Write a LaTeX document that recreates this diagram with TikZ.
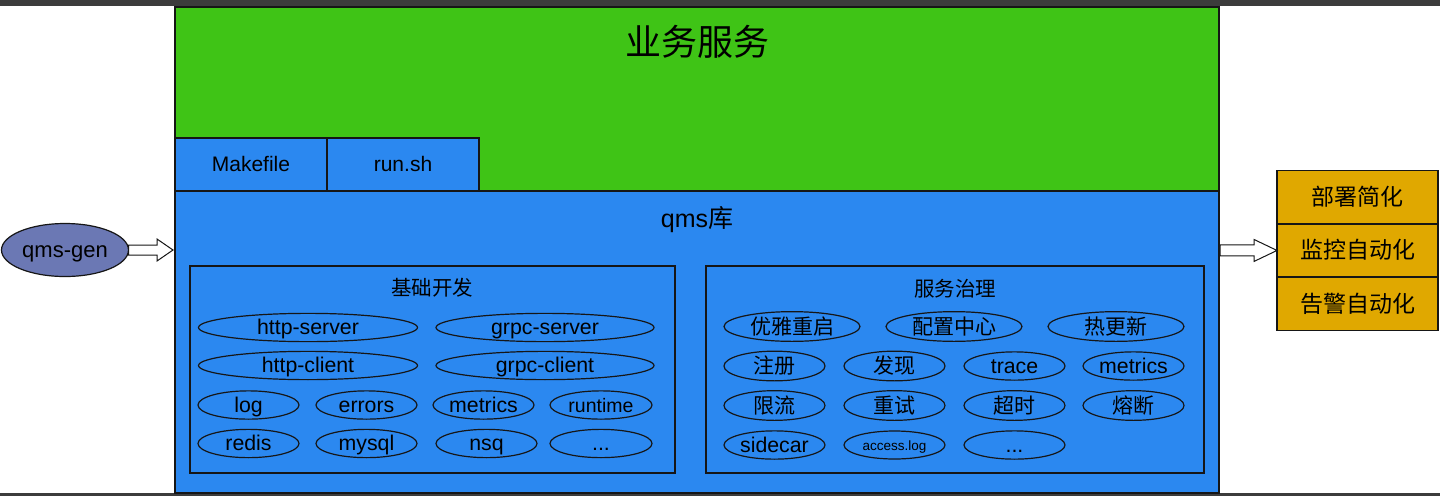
\documentclass[tikz,border=0pt]{standalone}
\usepackage{fontspec}
\setmainfont{Liberation Sans}
\newfontfamily\cjk{Noto Sans CJK SC}
\usetikzlibrary{shapes.geometric,calc}
\definecolor{bizgreen}{HTML}{3FC416}
\definecolor{libblue}{HTML}{2B88F0}
\definecolor{genslate}{HTML}{6B78B4}
\definecolor{gold}{HTML}{E0A800}
\definecolor{barGray}{HTML}{3C3C3C}
\definecolor{edge}{HTML}{161616}
\begin{document}
\begin{tikzpicture}[x=1pt,y=-1pt,
  every node/.style={inner sep=0pt, outer sep=0pt},
  mid/.style={text height=#1, text depth=3pt},
  mid/.default=17pt,
  box/.style={rectangle, draw=edge, line width=1.4pt, anchor=north west},
  pillA/.style={ellipse, draw=edge, line width=1.2pt, minimum width=#1, minimum height=26pt, mid, font=\fontsize{21.3}{25}\selectfont},
  pillB/.style={ellipse, draw=edge, line width=1.2pt, minimum width=#1, minimum height=28pt, mid, font=\fontsize{21.3}{25}\selectfont},
  cjkpill/.style={pillB=#1, mid=18pt, font=\cjk\fontsize{21}{25}\selectfont},
  sidebox/.style={box, fill=gold, minimum width=161pt, minimum height=53.3pt, mid=19.5pt, font=\cjk\fontsize{23}{27}\selectfont},
  hollow/.style={draw=edge, fill=white, line width=1pt, line join=miter}
]
\useasboundingbox (0,0) rectangle (1440,496);
\fill[white] (0,0) rectangle (1440,496);
\fill[barGray] (0,0) rectangle (1440,6);
\fill[barGray] (0,493) rectangle (1440,496);

% business service
\node[box, fill=bizgreen, minimum width=1044pt, minimum height=184pt] (biz) at (175,7) {};
\node[font=\cjk\fontsize{36}{40}\selectfont] (bizt) at (697,42) {业务服务};
\node[box, fill=libblue, minimum width=152pt, minimum height=53pt, mid, font=\fontsize{21}{25}\selectfont] (make) at (175,138) {Makefile};
\node[box, fill=libblue, minimum width=152pt, minimum height=53pt, mid, font=\fontsize{21}{25}\selectfont] (run) at (327,138) {run.sh};

% qms library
\node[box, fill=libblue, minimum width=1044pt, minimum height=302pt] (qms) at (175,191) {};
\node[mid=20pt, font=\fontsize{25}{29}\selectfont] (qmst) at (697,219) {qms{\cjk 库}};

\node[box, minimum width=485pt, minimum height=207pt] (base) at (190,266) {};
\node[font=\cjk\fontsize{20.5}{24}\selectfont] (baset) at (432,288) {基础开发};
\node[box, minimum width=498pt, minimum height=207pt] (gov) at (706,266) {};
\node[font=\cjk\fontsize{20.5}{24}\selectfont] (govt) at (955,289) {服务治理};

% base items
\node[pillA=219pt] (hs) at (308,327.5) {http-server};
\node[pillA=218pt] (gs) at (545,327.5) {grpc-server};
\node[pillA=219pt] (hc) at (308,365.5) {http-client};
\node[pillA=218pt] (gc) at (545,365.5) {grpc-client};
\node[pillA=101pt] (log) at (248.5,405) {log};
\node[pillA=101pt] (err) at (366.5,405) {errors};
\node[pillA=101pt] (met) at (483.5,405) {metrics};
\node[pillA=102pt, font=\fontsize{19.5}{23}\selectfont] (rt) at (601,405) {runtime};
\node[pillA=101pt] (redis) at (248.5,443.5) {redis};
\node[pillA=101pt] (mysql) at (366.5,443.5) {mysql};
\node[pillA=101pt] (nsq) at (486.5,443.5) {nsq};
\node[pillA=102pt] (bmore) at (601,443.5) {...};

% governance items
\node[cjkpill=136pt] (gr) at (792,326.5) {优雅重启};
\node[cjkpill=136pt] (cfg) at (954,326.5) {配置中心};
\node[cjkpill=136pt] (hot) at (1116,326.5) {热更新};
\node[cjkpill=101pt] (reg) at (774.5,366) {注册};
\node[cjkpill=101pt] (disc) at (894.5,366) {发现};
\node[pillB=101pt] (trace) at (1014.5,366) {trace};
\node[pillB=101pt] (gmet) at (1133.5,366) {metrics};
\node[cjkpill=101pt] (lim) at (774.5,405.5) {限流};
\node[cjkpill=101pt] (retry) at (894.5,405.5) {重试};
\node[cjkpill=101pt] (tout) at (1014.5,405.5) {超时};
\node[cjkpill=101pt] (fuse) at (1133.5,405.5) {熔断};
\node[pillB=101pt] (side) at (774.5,445) {sidecar};
\node[pillB=101pt, mid=13pt, font=\fontsize{13.5}{16}\selectfont] (acc) at (894.5,445) {access.log};
\node[pillB=101pt] (gmore) at (1014.5,445) {...};

% generator
\node[ellipse, draw=edge, line width=1.2pt, fill=genslate, minimum width=127pt, minimum height=53pt, mid=17.5pt, font=\fontsize{22}{26}\selectfont] (gen) at (65,250) {qms-gen};

% outcome boxes
\node[sidebox] (deploy) at (1277,170.5) {部署简化};
\node[sidebox] (mon) at (1277,223.8) {监控自动化};
\node[sidebox] (alarm) at (1277,277.1) {告警自动化};

% hollow arrows
\draw[hollow] let \p1=(gen.east), \p2=(gen.east -| qms.west) in
  (\x1,\y1+5pt) -- (\x2-18pt,\y1+5pt) -- (\x2-18pt,\y1+11pt) -- (\x2-2pt,\y1)
  -- (\x2-18pt,\y1-11pt) -- (\x2-18pt,\y1-5pt) -- (\x1,\y1-5pt) -- cycle;
\draw[hollow] let \p1=(mon.west -| qms.east), \p2=(mon.west) in
  (\x1+1pt,\y1+5.5pt) -- (\x2-23pt,\y1+5.5pt) -- (\x2-23pt,\y1+11pt) -- (\x2,\y1)
  -- (\x2-23pt,\y1-11pt) -- (\x2-23pt,\y1-5.5pt) -- (\x1+1pt,\y1-5.5pt) -- cycle;
\end{tikzpicture}
\end{document}
